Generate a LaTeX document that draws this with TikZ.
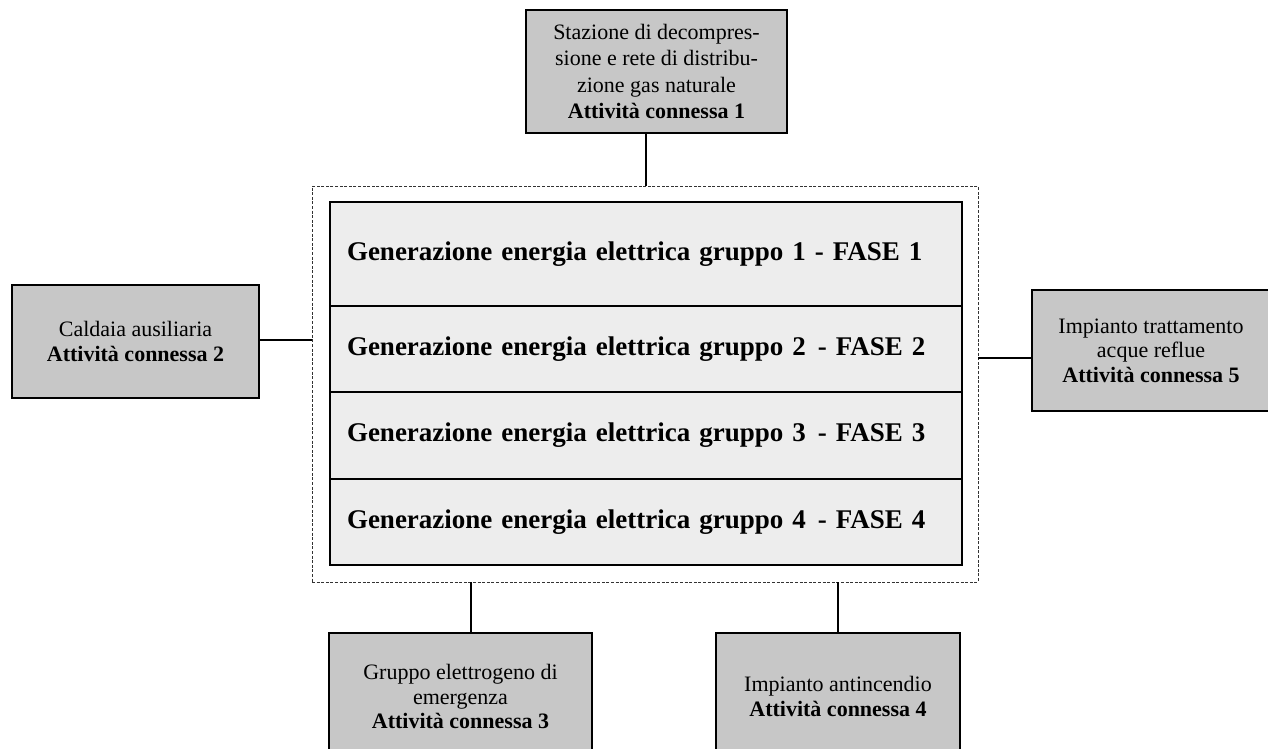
\documentclass[tikz,border=0pt]{standalone}
\usepackage{fontspec}
\setmainfont{Liberation Serif}
\begin{document}
\begin{tikzpicture}[x=1pt,y=-1pt,
  side/.style={draw=black, line width=1.3pt, fill=black!22, align=center, inner sep=0pt,
    font=\fontsize{22}{24.5}\selectfont},
  frame/.style={draw=black!80, line width=0.9pt, dash pattern=on 3pt off 1.6pt, inner sep=0pt},
  row/.style={draw=black, line width=1.3pt, fill=black!7, inner sep=0pt, minimum width=632pt,
    text width=598pt, align=left, font=\fontsize{27}{30}\selectfont\bfseries},
  link/.style={draw=black, line width=1.1pt}]
\useasboundingbox (0,0) rectangle (1268,749);
\clip (0,0) rectangle (1268,749);
% frame
\node[frame, minimum width=666pt, minimum height=396pt] (frame) at (645,384) {};
% rows
\node[row, minimum height=104pt] (r1) at (646,254) {Generazione energia elettrica gruppo 1 - FASE 1};
\node[row, minimum height=86pt] (r2) at (646,349) {Generazione energia elettrica gruppo 2\hspace{3pt} - FASE 2};
\node[row, minimum height=87pt] (r3) at (646,435.5) {Generazione energia elettrica gruppo 3\hspace{3pt} - FASE 3};
\node[row, minimum height=86pt] (r4) at (646,522) {Generazione energia elettrica gruppo 4\hspace{3pt} - FASE 4};
% side boxes
\node[side, minimum width=261pt, minimum height=123pt, font=\fontsize{22}{26.5}\selectfont] (top) at (656.5,71.5)
  {Stazione di decompres-\\sione e rete di distribu-\\zione gas naturale\\\textbf{Attività connessa 1}};
\node[side, minimum width=247pt, minimum height=113pt] (lft) at (135.5,341.5)
  {Caldaia ausiliaria\\\textbf{Attività connessa 2}};
\node[side, minimum width=238pt, minimum height=121pt] (rgt) at (1151,350.5)
  {Impianto trattamento\\acque reflue\\\textbf{Attività connessa 5}};
\node[side, minimum width=263pt, minimum height=127pt] (bl) at (460.5,696.5)
  {Gruppo elettrogeno di\\emergenza\\\textbf{Attività connessa 3}};
\node[side, minimum width=244pt, minimum height=127pt] (br) at (838,696.5)
  {Impianto antincendio\\\textbf{Attività connessa 4}};
% connector anchors
\coordinate (c1) at (646,0);
\coordinate (c2) at (0,340);
\coordinate (c3) at (0,358);
\coordinate (c4) at (471,0);
% connectors
\draw[link] (top.south -| c1) -- (frame.north -| c1);
\draw[link] (lft.east |- c2) -- (frame.west |- c2);
\draw[link] (frame.east |- c3) -- (rgt.west |- c3);
\draw[link] (frame.south -| c4) -- (bl.north -| c4);
\draw[link] (frame.south -| br) -- (br.north);
\end{tikzpicture}
\end{document}
